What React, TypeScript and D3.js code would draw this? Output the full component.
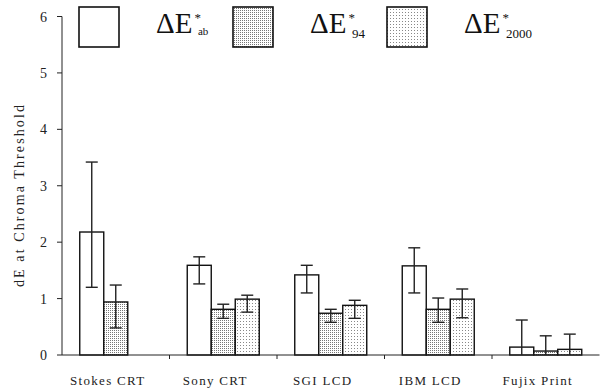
import React from 'react';
import * as d3 from 'd3';

const categories = ['Stokes CRT', 'Sony CRT', 'SGI LCD', 'IBM LCD', 'Fujix Print'];
const seriesKeys = ['ab', '94', '2000'];

// bar heights (null = no bar)
const meanAb = [2.18, 1.59, 1.42, 1.58, 0.14];
const mean94 = [0.94, 0.81, 0.74, 0.81, 0.07];
const mean2000 = [null, 0.99, 0.88, 0.99, 0.1];

// error bar bounds (low 0 = clipped at axis, no cap)
const highAb = [3.42, 1.74, 1.59, 1.9, 0.62];
const lowAb = [1.2, 1.26, 1.1, 1.1, 0];
const high94 = [1.24, 0.9, 0.81, 1.01, 0.34];
const low94 = [0.48, 0.65, 0.58, 0.58, 0];
const high2000 = [null, 1.06, 0.97, 1.17, 0.37];
const low2000 = [null, 0.76, 0.65, 0.66, 0];

const yTicks = [0, 1, 2, 3, 4, 5, 6];

const values = [meanAb, mean94, mean2000];
const highs = [highAb, high94, high2000];
const lows = [lowAb, low94, low2000];
const fills = ['#fff', 'url(#dots94)', 'url(#dots2000)'];
const subs = ['ab', '94', '2000'];

export default function App() {
  const width = 600;
  const height = 391;
  const font = "'Liberation Serif', 'Times New Roman', serif";

  const x = d3.scaleBand<string>().domain(categories).range([62, 599.5]).padding(0);
  const y = d3.scaleLinear().domain([0, 6]).range([355, 16.5]);
  const groupW = 72;
  const inner = d3.scaleBand<string>().domain(seriesKeys).range([0, groupW]).padding(0);

  const legendX = [79, 233, 387];

  return (
    <svg width={width} height={height} style={{ position: 'absolute', left: 0, top: 0, fontFamily: font }}>
      <defs>
        <pattern id="dots94" width="2" height="2" patternUnits="userSpaceOnUse">
          <rect width="2" height="2" fill="#fff" />
          <rect width="1" height="1" fill="#777" />
        </pattern>
        <pattern id="dots2000" width="3" height="3" patternUnits="userSpaceOnUse">
          <rect width="3" height="3" fill="#fff" />
          <rect width="1" height="1" fill="#888" />
        </pattern>
      </defs>

      {/* bars */}
      {categories.map((c, i) => {
        const x0 = (x(c) as number) + x.bandwidth() / 2 - groupW / 2;
        return (
          <g key={c}>
            {seriesKeys.map((s, k) => {
              const v = values[k][i];
              if (v == null) return null;
              const bx = x0 + (inner(s) as number);
              const bw = inner.bandwidth();
              const cx = bx + bw / 2;
              const hi = highs[k][i] as number;
              const lo = lows[k][i] as number;
              return (
                <g key={s}>
                  <rect x={bx} y={y(v)} width={bw} height={y(0) - y(v)} fill={fills[k]} stroke="#111" strokeWidth={1.4} />
                  <line x1={cx} x2={cx} y1={y(hi)} y2={y(lo)} stroke="#222" strokeWidth={1.4} />
                  <line x1={cx - 6} x2={cx + 6} y1={y(hi)} y2={y(hi)} stroke="#222" strokeWidth={1.4} />
                  {lo > 0 && <line x1={cx - 6} x2={cx + 6} y1={y(lo)} y2={y(lo)} stroke="#222" strokeWidth={1.4} />}
                </g>
              );
            })}
          </g>
        );
      })}

      {/* y axis */}
      <line x1={62} x2={62} y1={y(6)} y2={y(0)} stroke="#222" strokeWidth={1} />
      {yTicks.map((t) => (
        <g key={t}>
          <line x1={57} x2={62} y1={y(t)} y2={y(t)} stroke="#222" strokeWidth={1} />
          <text x={47} y={y(t) + 5} textAnchor="end" fontSize={14} fill="#222">{t}</text>
        </g>
      ))}
      <text transform={`translate(24,${195}) rotate(-90)`} textAnchor="middle" fontSize={14} letterSpacing={2.1} fill="#222">
        dE at Chroma Threshold
      </text>

      {/* x axis */}
      <line x1={62} x2={599.5} y1={y(0)} y2={y(0)} stroke="#222" strokeWidth={1} />
      {categories.map((c, i) => (
        <g key={c}>
          {i > 0 && <line x1={x(c)} x2={x(c)} y1={y(0)} y2={y(0) + 4} stroke="#222" strokeWidth={1} />}
          <text x={(x(c) as number) + x.bandwidth() / 2 - 8} y={385} textAnchor="middle" fontSize={13} letterSpacing={1.3} fill="#222">
            {c}
          </text>
        </g>
      ))}

      {/* legend */}
      {legendX.map((lx, k) => (
        <g key={k}>
          <rect x={lx} y={7} width={40} height={40} fill={fills[k]} stroke="#111" strokeWidth={1.6} />
          <text x={lx + 77} y={33} fontSize={29} fill="#111">
            ΔE
            <tspan dx={2} dy={-11} fontSize={13}>*</tspan>
            <tspan dx={-3} dy={k === 0 ? 13 : 16} fontSize={k === 0 ? 11 : 13}>{subs[k]}</tspan>
          </text>
        </g>
      ))}
    </svg>
  );
}
